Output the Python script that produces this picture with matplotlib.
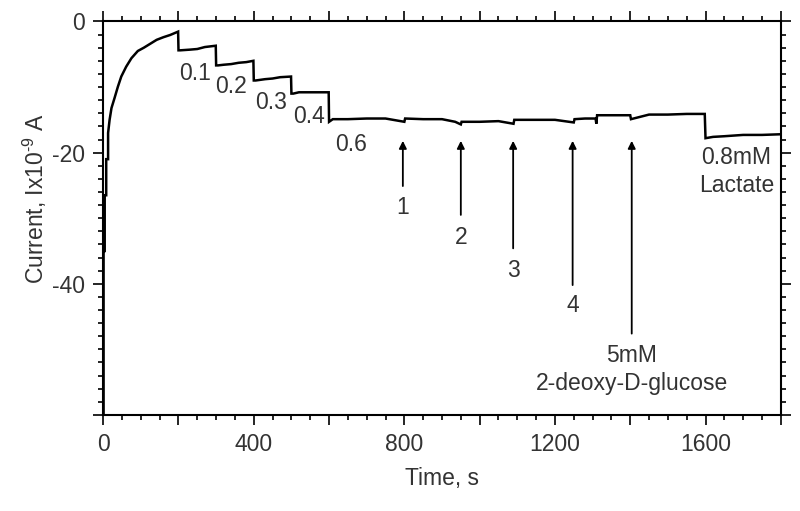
import matplotlib
matplotlib.use("Agg")
import matplotlib.pyplot as plt
from matplotlib.ticker import MultipleLocator, FixedLocator, FuncFormatter

plt.rcParams["axes.unicode_minus"] = False
plt.rcParams["mathtext.fontset"] = "custom"
plt.rcParams["mathtext.rm"] = "Liberation Sans"
plt.rcParams["mathtext.it"] = "Liberation Sans:italic"
plt.rcParams["mathtext.bf"] = "Liberation Sans:bold"

# ---- data ----
time_s = [0, 1, 1, 4, 4, 8, 8, 13, 13, 17, 22, 30, 39, 48, 61, 75, 92, 108,
          125, 142, 160, 178, 199,
          200, 205, 230, 250, 270, 299,
          300, 305, 320, 340, 360, 380, 399,
          400, 405, 430, 450, 470, 499,
          500, 505, 520, 560, 599,
          600, 610, 650, 700, 750, 800, 802, 850, 900, 935, 950, 952, 1000,
          1050, 1090, 1092, 1150, 1200, 1250, 1252, 1280, 1308, 1310, 1312,
          1350, 1400, 1402, 1450, 1500, 1550, 1598,
          1600, 1620, 1650, 1700, 1750, 1800]
current_nA = [-60, -60, -35, -35, -26.5, -26.5, -21, -21, -17, -15, -13.2, -11.7,
              -9.95, -8.4, -6.9, -5.6, -4.5, -4.0,
              -3.4, -2.8, -2.4, -2.06, -1.55,
              -4.4, -4.4, -4.3, -4.2, -3.9, -3.7,
              -6.7, -6.7, -6.6, -6.5, -6.3, -6.2, -6.0,
              -9.0, -9.0, -8.8, -8.7, -8.5, -8.4,
              -11.0, -11.0, -10.8, -10.8, -10.8,
              -15.3, -14.9, -14.9, -14.8, -14.8, -15.3, -14.8, -14.9, -14.9,
              -15.3, -15.7, -15.3, -15.3,
              -15.2, -15.6, -15.0, -15.0, -15.0, -15.4, -14.9, -14.8, -14.8,
              -15.6, -14.3,
              -14.3, -14.3, -14.9, -14.2, -14.2, -14.1, -14.1,
              -17.8, -17.6, -17.5, -17.3, -17.3, -17.2]

step_labels = ["0.1", "0.2", "0.3", "0.4", "0.6"]
step_label_t = [243, 340, 447, 548, 659]
step_label_y = [-7.9, -9.9, -12.4, -14.5, -18.8]

arrow_t = [796, 950, 1089, 1247, 1404]
arrow_tip_y = [-18.2, -18.2, -18.2, -18.2, -18.2]
arrow_tail_y = [-25.1, -29.5, -34.6, -40.2, -47.6]
arrow_labels = ["1", "2", "3", "4", "5mM"]
arrow_label_y = [-28.3, -32.9, -37.9, -43.3, -50.9]

FONT = ["Liberation Sans", "DejaVu Sans"]
FS = 16.5
TXT = "#333333"

fig = plt.figure(figsize=(8.0, 5.11), dpi=100)
ax = fig.add_axes([0.129, 0.188, 0.847, 0.770])

ax.plot(time_s, current_nA, color="black", lw=1.8, solid_joinstyle="miter")

ax.set_xlim(0, 1800)
ax.set_ylim(-60, 0)

ax.xaxis.set_major_locator(MultipleLocator(200))
ax.xaxis.set_minor_locator(MultipleLocator(50))
ax.xaxis.set_major_formatter(FuncFormatter(
    lambda v, p: f"{int(v)}" if (int(round(v)) % 400 == 0 and v < 1700) else ""))
ax.yaxis.set_major_locator(FixedLocator([0, -20, -40, -60]))
ax.yaxis.set_minor_locator(MultipleLocator(2))
ax.yaxis.set_major_formatter(FuncFormatter(
    lambda v, p: f"{int(v)}" if v > -50 else ""))

ax.tick_params(which="both", direction="out", top=True, right=True,
               width=1.2, color="black")
ax.tick_params(which="major", length=7, pad=6)
ax.tick_params(which="minor", length=3.5)
for lab in ax.get_xticklabels() + ax.get_yticklabels():
    lab.set_fontfamily(FONT)
    lab.set_fontsize(FS)
    lab.set_color(TXT)
for s in ax.spines.values():
    s.set_linewidth(1.5)

ax.set_xlabel("Time, s", fontfamily=FONT, fontsize=FS, color=TXT, labelpad=8)
ax.set_ylabel(r"Current, Ix10$^{\text{-9}}$ A", fontfamily=FONT, fontsize=FS,
              color=TXT)
ax.yaxis.set_label_coords(-0.08, 0.55)

for lab, t, y in zip(step_labels, step_label_t, step_label_y):
    ax.text(t, y, lab, ha="center", va="center", fontfamily=FONT,
            fontsize=FS, color=TXT)

for t, tip, tail, lab, ly in zip(arrow_t, arrow_tip_y, arrow_tail_y,
                                 arrow_labels, arrow_label_y):
    ax.annotate("", xy=(t, tip), xytext=(t, tail),
                arrowprops=dict(arrowstyle="-|>", lw=1.3, color="black",
                                mutation_scale=11, shrinkA=0, shrinkB=0))
    ax.text(t, ly, lab, ha="center", va="center", fontfamily=FONT,
            fontsize=FS, color=TXT)

ax.text(1404, -55.2, "2-deoxy-D-glucose", ha="center", va="center",
        fontfamily=FONT, fontsize=FS, color=TXT)
ax.text(1682, -20.7, "0.8mM", ha="center", va="center",
        fontfamily=FONT, fontsize=FS, color=TXT)
ax.text(1682, -25.0, "Lactate", ha="center", va="center",
        fontfamily=FONT, fontsize=FS, color=TXT)

fig.savefig("out.png", dpi=100)
